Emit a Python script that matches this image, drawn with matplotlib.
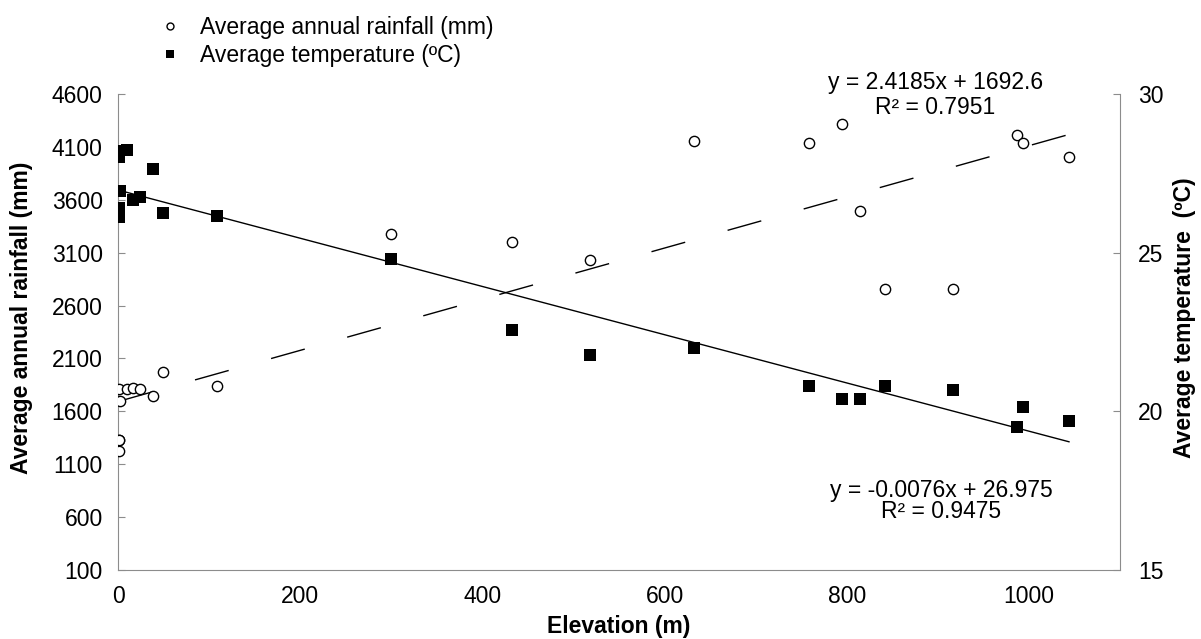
import matplotlib
matplotlib.use("Agg")
import matplotlib.pyplot as plt
from matplotlib.lines import Line2D
import numpy as np

plt.rcParams['font.family'] = ['Liberation Sans', 'DejaVu Sans']

# ---- data ----
elevation = [1, 10, 1, 38, 2, 17, 24, 1, 1, 49, 109, 300, 433, 518, 632, 759,
             795, 815, 842, 917, 987, 993, 1044]
rainfall = [1808, 1808, 1325, 1748, 1701, 1823, 1811, 1332, 1228, 1975, 1842,
            3279, 3198, 3031, 4156, 4137, 4316, 3494, 2757, 2757, 4212, 4137, 4004]
temperature = [28.21, 28.24, 28.02, 27.63, 26.95, 26.66, 26.74, 26.40, 26.13,
               26.24, 26.16, 24.80, 22.56, 21.76, 22.00, 20.80, 20.39, 20.39,
               20.80, 20.67, 19.51, 20.14, 19.69]
rain_slope, rain_intercept, rain_r2 = 2.4185, 1692.6, 0.7951
temp_slope, temp_intercept, temp_r2 = -0.0076, 26.975, 0.9475
x_ticks = [0, 200, 400, 600, 800, 1000]
rain_ticks = [100, 600, 1100, 1600, 2100, 2600, 3100, 3600, 4100, 4600]
temp_ticks = [15, 20, 25, 30]

W, H = 1201, 639
fig = plt.figure(figsize=(W / 100, H / 100), dpi=100)
L, R, T, B = 118, 1120, 94, 570
ax = fig.add_axes([L / W, 1 - B / H, (R - L) / W, (B - T) / H])
ax2 = ax.twinx()

gray = '#8c8c8c'
fs = 16.5

# rainfall
ax.plot(elevation, rainfall, linestyle='none', marker='o', ms=7.4, mfc='white',
        mec='black', mew=1.0, zorder=3)
xr = np.array([min(elevation), max(elevation)])
ax.plot(xr, rain_slope * xr + rain_intercept, color='black', lw=1.0,
        linestyle=(0, (25.2, 31.7)), zorder=2)

# temperature
ax2.plot(elevation, temperature, linestyle='none', marker='s', ms=8,
         mfc='black', mec='black', mew=0, zorder=3)
ax2.plot(xr, temp_slope * xr + temp_intercept, color='black', lw=1.0, zorder=2)

ax.set_xlim(0, 1100)
ax.set_ylim(100, 4600)
ax2.set_ylim(15, 30)
ax.set_xticks(x_ticks)
ax.set_yticks(rain_ticks)
ax2.set_yticks(temp_ticks)

for sp in ['top', 'right']:
    ax.spines[sp].set_visible(False)
for sp in ['top', 'left', 'bottom']:
    ax2.spines[sp].set_visible(False)
for a, sp in [(ax, 'left'), (ax, 'bottom'), (ax2, 'right')]:
    a.spines[sp].set_color(gray)
    a.spines[sp].set_linewidth(0.8)

ax.tick_params(axis='y', direction='in', length=4.8, width=0.8, color=gray,
               labelsize=fs, pad=11)
ax2.tick_params(axis='y', direction='in', length=4.8, width=0.8, color=gray,
                labelsize=fs, pad=13)
ax.tick_params(axis='x', length=0, labelsize=fs, pad=11)

def fx(px):
    return px / W

def fy(py):
    return 1 - py / H

fig.text(fx(619), fy(626), 'Elevation (m)', ha='center', va='center',
         fontsize=fs, fontweight='bold')
fig.text(fx(22), fy(318), 'Average annual rainfall (mm)', ha='center',
         va='center', rotation=90, fontsize=fs, fontweight='bold')
fig.text(fx(1185), fy(318), 'Average temperature  (ºC)', ha='center',
         va='center', rotation=90, fontsize=fs, fontweight='bold')

fig.text(fx(936), fy(83), f'y = {rain_slope}x + {rain_intercept}', ha='center',
         va='center', fontsize=fs)
fig.text(fx(935), fy(108), f'R² = {rain_r2}', ha='center', va='center',
         fontsize=fs)
fig.text(fx(941), fy(490), f'y = {temp_slope}x + {temp_intercept}',
         ha='center', va='center', fontsize=fs)
fig.text(fx(941), fy(512), f'R² = {temp_r2}', ha='center', va='center',
         fontsize=fs)

handles = [
    Line2D([], [], linestyle='none', marker='o', ms=5, mfc='white',
           mec='black', mew=1.0),
    Line2D([], [], linestyle='none', marker='s', ms=5.5, mfc='black',
           mec='black', mew=0),
]
labels = ['Average annual rainfall (mm)', 'Average temperature (ºC)']
fig.legend(handles, labels, loc='upper left', bbox_to_anchor=(fx(159), fy(16)),
           frameon=False, fontsize=fs, handlelength=1.0, handletextpad=0.8,
           labelspacing=0.2, borderpad=0, borderaxespad=0, numpoints=1)

fig.savefig('out.png', dpi=100)
